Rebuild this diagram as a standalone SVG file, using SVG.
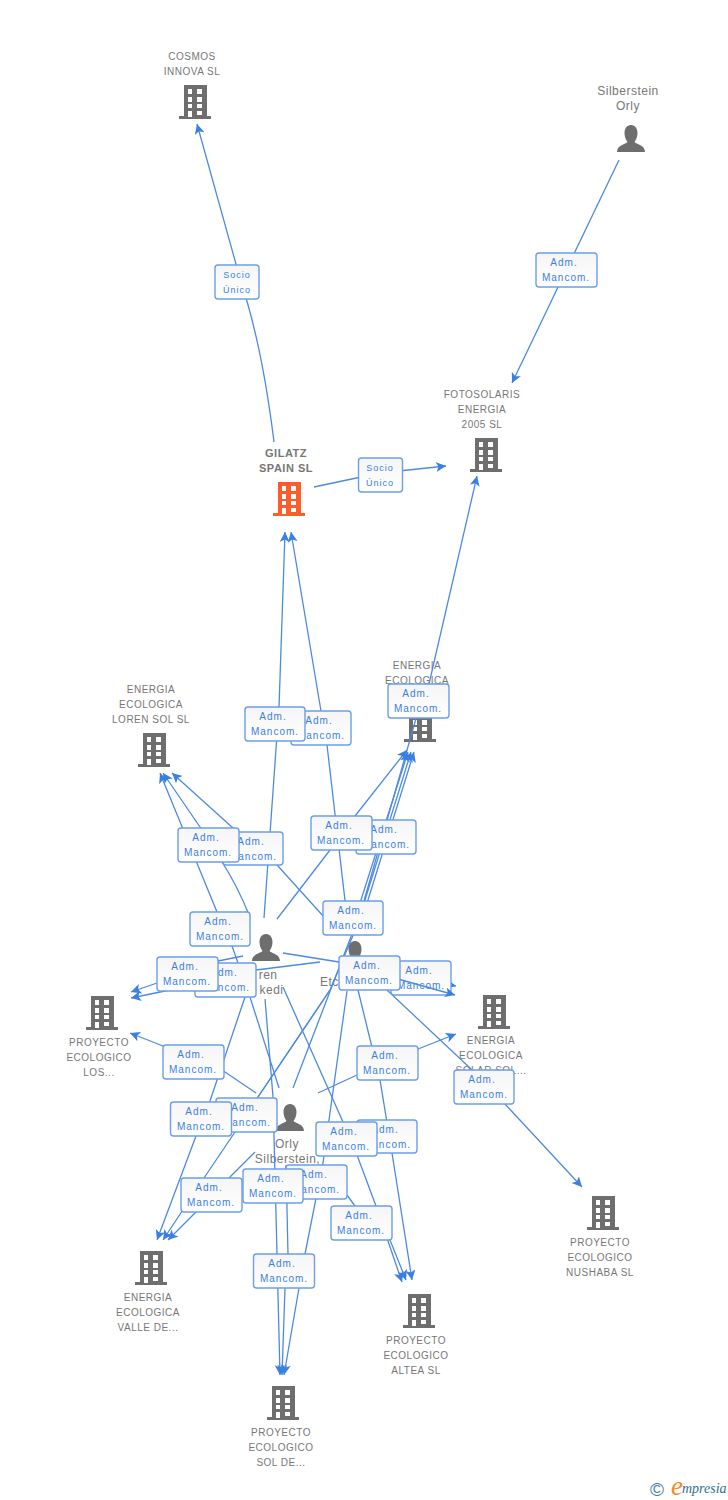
<svg xmlns="http://www.w3.org/2000/svg" width="728" height="1500" viewBox="0 0 728 1500">
<style>
.n{font:10px "Liberation Sans",Arial,sans-serif;letter-spacing:.5px;fill:#777;text-anchor:middle}
.p{font:12px "Liberation Sans",Arial,sans-serif;letter-spacing:.5px;fill:#777;text-anchor:middle}
.b{font:bold 11px "Liberation Sans",Arial,sans-serif;letter-spacing:.5px;fill:#777;text-anchor:middle}
.c path{fill:none;stroke:#4c8ae3;stroke-width:1.3;marker-end:url(#a)}
.e rect{fill:url(#g);stroke:#6b9fe8;stroke-width:1.4}
.e text{font:10px "Liberation Sans",Arial,sans-serif;letter-spacing:1px;fill:#3b7fe2;text-anchor:middle}
.s text{font-size:9px}
</style>
<defs>
<linearGradient id="g" x1="0" y1="0" x2="0" y2="1"><stop offset="0" stop-color="#f5f5f5"/><stop offset="1" stop-color="#fff"/></linearGradient>
<marker id="a" markerUnits="userSpaceOnUse" markerWidth="12" markerHeight="12" refX="10" refY="5" orient="auto"><path d="M0,0L10,5L0,10L2.5,5z" fill="#3b7fe2"/></marker>
<g id="bd">
<path fill-rule="evenodd" d="M5,0H28V31H32V34H0V31H5zM9,4V9H13V4zM18,4V9H23V4zM9,12V17H13V12zM18,12V17H23V12zM9,19V23H13V19zM18,19V23H23V19zM9,26V32H13V26zM18,26V30H23V26z"/>
</g>
<g id="pr"><path d="M14,0C18.500,0 20.500,4 20.500,8C20.500,12 19,15 17.500,17C19,19 28,20 28,27H0C0,20 9,19 10.500,17C9,15 7.500,12 7.500,8C7.500,4 9.500,0 14,0z" fill="#6e6e6e"/></g>
</defs>
<rect width="728" height="1500" fill="#fff"/>
<g id="nodes">
<g id="n-cosmos" fill="#6e6e6e"><use href="#bd" x="179" y="85"/><text class="n" x="192" y="60">COSMOS</text><text class="n" x="192" y="75">INNOVA SL</text></g>
<g id="n-silberstein"><use href="#pr" x="617" y="125"/><text class="p" x="628" y="95">Silberstein</text><text class="p" x="628" y="110">Orly</text></g>
<g id="n-fotosolaris" fill="#6e6e6e"><use href="#bd" x="470" y="438"/><text class="n" x="482" y="398">FOTOSOLARIS</text><text class="n" x="482" y="413">ENERGIA</text><text class="n" x="482" y="428">2005 SL</text></g>
<g id="n-gilatz" fill="#ff5c2e"><use href="#bd" x="273" y="482"/><text class="b" x="286" y="457">GILATZ</text><text class="b" x="286" y="472">SPAIN SL</text></g>
<g id="n-energia" fill="#6e6e6e"><use href="#bd" x="404" y="708"/><text class="n" x="417" y="669">ENERGIA</text><text class="n" x="417" y="684">ECOLOGICA</text></g>
<g id="n-lorensol" fill="#6e6e6e"><use href="#bd" x="138" y="733"/><text class="n" x="151" y="693">ENERGIA</text><text class="n" x="151" y="708">ECOLOGICA</text><text class="n" x="151" y="723">LOREN SOL SL</text></g>
<g id="n-loren"><use href="#pr" x="252" y="934"/><text class="p" x="277.500" y="979" style="text-anchor:end">ren</text><text class="p" x="283.500" y="994" style="text-anchor:end">kedi</text></g>
<g id="n-etc"><use href="#pr" x="341" y="941"/><text class="p" x="320" y="986" style="text-anchor:start">Etc</text></g>
<g id="n-los" fill="#6e6e6e"><use href="#bd" x="86" y="996"/><text class="n" x="99" y="1046">PROYECTO</text><text class="n" x="99" y="1061">ECOLOGICO</text><text class="n" x="99" y="1076">LOS...</text></g>
<g id="n-solar" fill="#6e6e6e"><use href="#bd" x="478" y="995"/><text class="n" x="491" y="1044">ENERGIA</text><text class="n" x="491" y="1059">ECOLOGICA</text><text class="n" x="491" y="1074">SOLAR SOL...</text></g>
<g id="n-orly"><use href="#pr" x="276" y="1104"/><text class="p" x="287" y="1148">Orly</text><text class="p" x="287.500" y="1163">Silberstein,</text></g>
<g id="n-nushaba" fill="#6e6e6e"><use href="#bd" x="587" y="1196"/><text class="n" x="600" y="1246">PROYECTO</text><text class="n" x="600" y="1261">ECOLOGICO</text><text class="n" x="600" y="1276">NUSHABA SL</text></g>
<g id="n-valle" fill="#6e6e6e"><use href="#bd" x="135" y="1251"/><text class="n" x="148" y="1301">ENERGIA</text><text class="n" x="148" y="1316">ECOLOGICA</text><text class="n" x="148" y="1331">VALLE DE...</text></g>
<g id="n-altea" fill="#6e6e6e"><use href="#bd" x="403" y="1294"/><text class="n" x="416" y="1344">PROYECTO</text><text class="n" x="416" y="1359">ECOLOGICO</text><text class="n" x="416" y="1374">ALTEA SL</text></g>
<g id="n-solde" fill="#6e6e6e"><use href="#bd" x="267" y="1386"/><text class="n" x="281" y="1436">PROYECTO</text><text class="n" x="281" y="1451">ECOLOGICO</text><text class="n" x="281" y="1466">SOL DE...</text></g>
</g>
<g id="connectors" class="c">
<path d="M274,442Q262,345 241,282L197,124"/>
<path d="M619,160L512,383"/>
<path d="M314,487L380,473L446,466"/>
<path d="M364,901L417,715L429,684L477,476"/>
<path d="M264,918L279,707L285,532"/>
<path d="M349,935L327,745L321,711L291,532"/>
<path d="M277,919L330,850L355,816L407,750"/>
<path d="M350,935L361,900L408,752"/>
<path d="M293,1088L365,900L411,752"/>
<path d="M258,1097L330,990L368,900L414,752"/>
<path d="M333,927L278,866L233,828L172,773"/>
<path d="M250,917Q237,885 222,862L200,827L163,773"/>
<path d="M238,963L232,946L217,912L160,773"/>
<path d="M243,956L218,961L157,983L131,992"/>
<path d="M320,962L256,970L165,991L131,998"/>
<path d="M283,953L339,962L456,986"/>
<path d="M256,1093L225,1072L163,1046L130,1033"/>
<path d="M318,1093L357,1075L418,1049L456,1034"/>
<path d="M387,990L470,1068L505,1104L582,1187"/>
<path d="M245,997L210,1101L196,1136L157,1240"/>
<path d="M330,990L258,1097L235,1132L204,1178L163,1240"/>
<path d="M255,1152L229,1178L195,1213L168,1240"/>
<path d="M358,990L380,1080L392,1153L412,1280"/>
<path d="M283,987L343,1122L357,1155L376,1206L402,1282"/>
<path d="M347,1195L355,1206L390,1240L406,1280"/>
<path d="M265,999L273,1097L277,1254L280,1375"/>
<path d="M286,1165L288,1254L285,1288L282,1375"/>
<path d="M347,991L323,1163L305,1254L299,1288L284,1375"/>
<path d="M250,997L279,1088" style="marker-end:none"/>
</g>
<g id="labels" class="e">
<g class="s"><rect x="215" y="265" width="44" height="34" rx="3"/><text x="237" y="278">Socio</text><text x="237" y="293">Único</text></g>
<g class="s"><rect x="358.500" y="458" width="44" height="34" rx="3"/><text x="380" y="471">Socio</text><text x="380" y="486">Único</text></g>
<g><rect x="536" y="253" width="61" height="34" rx="3"/><text x="564" y="266">Adm.</text><text x="566" y="281">Mancom.</text></g>
<g><rect x="291" y="711" width="60" height="34" rx="3"/><text x="319" y="724">Adm.</text><text x="321" y="739">Mancom.</text></g>
<g><rect x="245" y="707" width="60" height="34" rx="3"/><text x="273" y="720">Adm.</text><text x="275" y="735">Mancom.</text></g>
<g><rect x="388" y="684" width="61" height="34" rx="3"/><text x="416" y="697">Adm.</text><text x="418" y="712">Mancom.</text></g>
<g><rect x="223" y="832" width="60" height="33" rx="3"/><text x="251" y="845">Adm.</text><text x="253" y="860">Mancom.</text></g>
<g><rect x="178" y="828" width="61" height="34" rx="3"/><text x="206" y="841">Adm.</text><text x="208" y="856">Mancom.</text></g>
<g><rect x="356" y="820" width="60" height="34" rx="3"/><text x="384" y="833">Adm.</text><text x="386" y="848">Mancom.</text></g>
<g><rect x="311" y="816" width="61" height="34" rx="3"/><text x="339" y="829">Adm.</text><text x="341" y="844">Mancom.</text></g>
<g><rect x="323" y="901" width="60" height="34" rx="3"/><text x="351" y="914">Adm.</text><text x="353" y="929">Mancom.</text></g>
<g><rect x="190" y="912" width="60" height="34" rx="3"/><text x="218" y="925">Adm.</text><text x="220" y="940">Mancom.</text></g>
<g><rect x="195" y="963" width="61" height="34" rx="3"/><text x="224" y="976">Adm.</text><text x="226" y="991">Mancom.</text></g>
<g><rect x="157" y="957" width="61" height="34" rx="3"/><text x="185" y="970">Adm.</text><text x="187" y="985">Mancom.</text></g>
<g><rect x="391" y="961" width="60" height="34" rx="3"/><text x="419" y="974">Adm.</text><text x="421" y="989">Mancom.</text></g>
<path class="over" d="M398,979L455,995" fill="none" stroke="#4c8ae3" stroke-width="1.300" marker-end="url(#a)"/>
<g><rect x="339" y="956" width="61" height="34" rx="3"/><text x="367" y="969">Adm.</text><text x="369" y="984">Mancom.</text></g>
<g><rect x="163" y="1045" width="61" height="34" rx="3"/><text x="191" y="1058">Adm.</text><text x="193" y="1073">Mancom.</text></g>
<g><rect x="357" y="1046" width="61" height="34" rx="3"/><text x="385" y="1059">Adm.</text><text x="387" y="1074">Mancom.</text></g>
<g><rect x="454" y="1070" width="60" height="34" rx="3"/><text x="482" y="1083">Adm.</text><text x="484" y="1098">Mancom.</text></g>
<g><rect x="216" y="1098" width="61" height="34" rx="3"/><text x="245" y="1111">Adm.</text><text x="247" y="1126">Mancom.</text></g>
<g><rect x="170.500" y="1102" width="61" height="34" rx="3"/><text x="199" y="1115">Adm.</text><text x="201" y="1130">Mancom.</text></g>
<g><rect x="357" y="1120" width="60" height="33" rx="3"/><text x="385" y="1133">Adm.</text><text x="387" y="1148">Mancom.</text></g>
<g><rect x="316" y="1122" width="61" height="34" rx="3"/><text x="344" y="1135">Adm.</text><text x="346" y="1150">Mancom.</text></g>
<g><rect x="286" y="1165" width="61" height="34" rx="3"/><text x="314" y="1178">Adm.</text><text x="316" y="1193">Mancom.</text></g>
<g><rect x="181" y="1178" width="61" height="34" rx="3"/><text x="209" y="1191">Adm.</text><text x="211" y="1206">Mancom.</text></g>
<g><rect x="243" y="1169" width="60" height="34" rx="3"/><text x="271" y="1182">Adm.</text><text x="273" y="1197">Mancom.</text></g>
<g><rect x="331" y="1206" width="61" height="34" rx="3"/><text x="359" y="1219">Adm.</text><text x="361" y="1234">Mancom.</text></g>
<g><rect x="253.500" y="1254" width="61" height="34" rx="3"/><text x="282" y="1267">Adm.</text><text x="284" y="1282">Mancom.</text></g>
</g>
<g id="logo">
<text x="650" y="1496" style="font:19px 'Liberation Sans',sans-serif;fill:#3f7d9c">©</text>
<text x="671" y="1495" style="font:italic 27px 'Liberation Serif',serif;fill:#f58a1f">e</text>
<text x="682" y="1493" style="font:italic 14px 'Liberation Serif',serif;fill:#2f6f8c">mpresia</text>
</g>
</svg>
